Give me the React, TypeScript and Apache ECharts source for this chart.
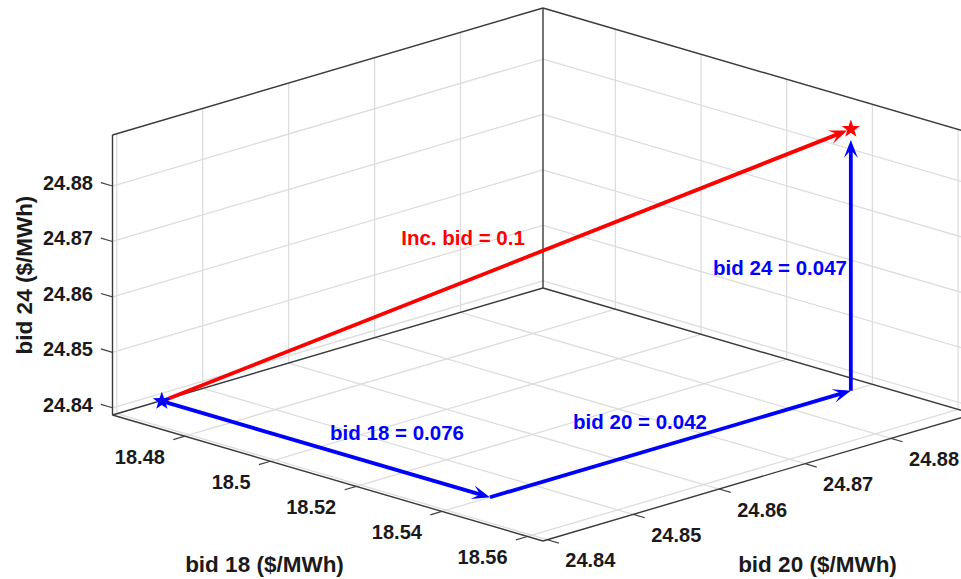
import React, { useEffect, useRef } from "react";
import * as echarts from "echarts";

const bid18Ticks = [18.48, 18.5, 18.52, 18.54, 18.56];
const bid20Ticks = [24.84, 24.85, 24.86, 24.87, 24.88];
const bid24Ticks = [24.84, 24.85, 24.86, 24.87, 24.88];
const bid18Labels = ["18.48", "18.5", "18.52", "18.54", "18.56"];
const bid20Labels = ["24.84", "24.85", "24.86", "24.87", "24.88"];
const bid24Labels = ["24.84", "24.85", "24.86", "24.87", "24.88"];

const bid18Range = [18.4631, 18.5636];
const bid20Range = [24.8395, 24.8896];
const bid24Range = [24.8387, 24.8892];

const startPoint = [18.47, 24.8418, 24.8417];
const afterBid18 = [18.5466, 24.8418, 24.8417];
const afterBid20 = [18.5466, 24.8838, 24.8417];
const afterBid24 = [18.5466, 24.8838, 24.8889];

const FONT = "'Liberation Sans', Arial, sans-serif";
const [X0, X1] = bid18Range;
const [Y0, Y1] = bid20Range;
const [Z0, Z1] = bid24Range;

// Orthographic view of the MATLAB-style box, expressed as pixels per full axis range.
function project(x: number, y: number, z: number): [number, number] {
  const a = (x - X0) / (X1 - X0);
  const b = (y - Y0) / (Y1 - Y0);
  const c = (z - Z0) / (Z1 - Z0);
  return [112.5 + 430.5 * a + 430.5 * b, 415 + 126 * a - 127 * b - 280 * c];
}

const gridRows: number[][] = [
  ...bid18Ticks.flatMap((x) => [
    [x, Y0, Z0, x, Y1, Z0],
    [x, Y1, Z0, x, Y1, Z1],
  ]),
  ...bid20Ticks.flatMap((y) => [
    [X0, y, Z0, X1, y, Z0],
    [X0, y, Z0, X0, y, Z1],
  ]),
  ...bid24Ticks.flatMap((z) => [
    [X0, Y0, z, X0, Y1, z],
    [X0, Y1, z, X1, Y1, z],
  ]),
];

const boxRows: number[][] = [
  [X0, Y0, Z0, X1, Y0, Z0],
  [X1, Y0, Z0, X1, Y1, Z0],
  [X0, Y0, Z0, X0, Y1, Z0],
  [X0, Y1, Z0, X1, Y1, Z0],
  [X0, Y0, Z0, X0, Y0, Z1],
  [X0, Y1, Z0, X0, Y1, Z1],
  [X0, Y0, Z1, X0, Y1, Z1],
  [X0, Y1, Z1, X1, Y1, Z1],
];

const dy = (Y1 - Y0) * 0.027;
const dx = (X1 - X0) * 0.027;
const tickRows: number[][] = [
  ...bid18Ticks.map((x) => [x, Y0, Z0, x, Y0 - dy, Z0]),
  ...bid20Ticks.map((y) => [X1, y, Z0, X1 + dx, y, Z0]),
  ...bid24Ticks.map((z) => [X0, Y0, z, X0 - dx, Y0, z]),
];

function segmentSeries(rows: number[][], color: string, width: number) {
  return {
    type: "custom",
    coordinateSystem: "cartesian2d",
    silent: true,
    data: rows,
    renderItem: (_: any, api: any) => {
      const p = api.coord(project(api.value(0), api.value(1), api.value(2)));
      const q = api.coord(project(api.value(3), api.value(4), api.value(5)));
      return {
        type: "line",
        shape: { x1: p[0], y1: p[1], x2: q[0], y2: q[1] },
        style: { stroke: color, lineWidth: width, fill: "none" },
      };
    },
  };
}

function arrowSeries(rows: number[][], color: string) {
  return {
    type: "custom",
    coordinateSystem: "cartesian2d",
    silent: true,
    data: rows,
    renderItem: (_: any, api: any) => {
      const p = api.coord(project(api.value(0), api.value(1), api.value(2)));
      const q = api.coord(project(api.value(3), api.value(4), api.value(5)));
      const inset = api.value(6);
      const len = Math.hypot(q[0] - p[0], q[1] - p[1]);
      const ux = (q[0] - p[0]) / len;
      const uy = (q[1] - p[1]) / len;
      const tip = [q[0] - ux * inset, q[1] - uy * inset];
      const at = (back: number, side: number) => [
        tip[0] - ux * back - uy * side,
        tip[1] - uy * back + ux * side,
      ];
      return {
        type: "group",
        children: [
          {
            type: "line",
            shape: { x1: p[0], y1: p[1], x2: at(5, 0)[0], y2: at(5, 0)[1] },
            style: { stroke: color, lineWidth: 3.8, fill: "none" },
          },
          {
            type: "polygon",
            shape: { points: [tip, at(18, 7), at(10, 0), at(18, -7)] },
            style: { fill: color },
          },
        ],
      };
    },
  };
}

function starSeries(point: number[], color: string) {
  return {
    type: "custom",
    coordinateSystem: "cartesian2d",
    silent: true,
    data: [point],
    renderItem: (_: any, api: any) => {
      const c = api.coord(project(api.value(0), api.value(1), api.value(2)));
      const points: number[][] = [];
      for (let i = 0; i < 10; i++) {
        const r = i % 2 === 0 ? 9.5 : 3.8;
        const t = -Math.PI / 2 + (i * Math.PI) / 5;
        points.push([c[0] + r * Math.cos(t), c[1] + r * Math.sin(t)]);
      }
      return { type: "polygon", shape: { points }, style: { fill: color } };
    },
  };
}

function labelSeries(
  rows: number[][],
  labels: string[],
  align: string,
  ox: number,
  oy: number
) {
  return {
    type: "custom",
    coordinateSystem: "cartesian2d",
    silent: true,
    data: rows,
    renderItem: (params: any, api: any) => {
      const p = api.coord(project(api.value(0), api.value(1), api.value(2)));
      return {
        type: "text",
        x: p[0] + ox,
        y: p[1] + oy,
        style: {
          text: labels[params.dataIndex],
          fill: "#1a1a1a",
          fontFamily: FONT,
          fontWeight: "bold",
          fontSize: 20,
          align,
          verticalAlign: "middle",
        },
      };
    },
  };
}

function titleText(text: string, x: number, y: number, rotation = 0) {
  return {
    type: "text",
    x,
    y,
    z: 100,
    rotation,
    style: {
      text,
      fill: "#1a1a1a",
      fontFamily: FONT,
      fontWeight: "bold",
      fontSize: 22.5,
      align: "center",
      verticalAlign: "middle",
    },
  };
}

function noteText(text: string, color: string, x: number, y: number) {
  return {
    type: "text",
    x,
    y,
    z: 100,
    style: {
      text,
      fill: color,
      fontFamily: FONT,
      fontWeight: "bold",
      fontSize: 20.5,
      align: "center",
      verticalAlign: "middle",
    },
  };
}

export default function App() {
  const ref = useRef<HTMLDivElement>(null);
  useEffect(() => {
    const chart = echarts.init(ref.current!, undefined, { renderer: "svg" });
    chart.setOption({
      animation: false,
      backgroundColor: "#ffffff",
      grid: { left: 0, right: 0, top: 0, bottom: 0 },
      xAxis: { type: "value", min: 0, max: 961, show: false },
      yAxis: { type: "value", min: 0, max: 579, inverse: true, show: false },
      series: [
        segmentSeries(gridRows, "#dddddd", 1.3),
        segmentSeries(tickRows, "#444444", 1.2),
        segmentSeries(boxRows, "#3a3a3a", 1.4),
        arrowSeries([[...startPoint, ...afterBid24, 4]], "#ff0000"),
        arrowSeries(
          [
            [...startPoint, ...afterBid18, 0],
            [...afterBid18, ...afterBid20, 0],
            [...afterBid20, ...afterBid24, 11],
          ],
          "#0000ff"
        ),
        starSeries(startPoint, "#0000ff"),
        starSeries(afterBid24, "#ff0000"),
        labelSeries(bid18Ticks.map((x) => [x, Y0, Z0]), bid18Labels, "right", -20, 21),
        labelSeries(bid20Ticks.map((y) => [X1, y, Z0]), bid20Labels, "left", 18, 20.5),
        labelSeries(bid24Ticks.map((z) => [X0, Y0, z]), bid24Labels, "right", -19.5, -3),
      ],
      graphic: { elements: [
        titleText("bid 18 ($/MWh)", 264.5, 564),
        titleText("bid 20 ($/MWh)", 817.5, 564),
        titleText("bid 24 ($/MWh)", 24, 275, Math.PI / 2),
        noteText("Inc. bid = 0.1", "#ff0000", 463, 237),
        noteText("bid 18 = 0.076", "#0000ff", 397, 432),
        noteText("bid 20 = 0.042", "#0000ff", 640, 421),
        noteText("bid 24 = 0.047", "#0000ff", 780, 267),
      ] },
    });
    return () => chart.dispose();
  }, []);
  return (
    <div
      ref={ref}
      style={{ position: "absolute", left: 0, top: 0, width: 961, height: 579 }}
    />
  );
}
